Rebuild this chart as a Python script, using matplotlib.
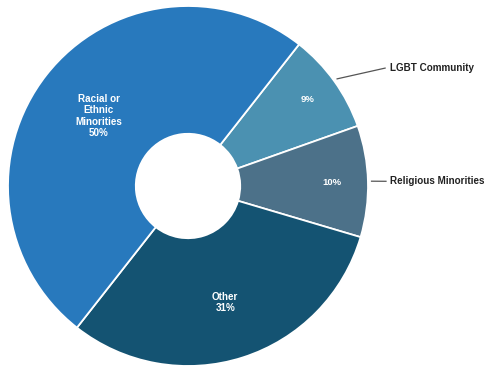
import numpy as np
import matplotlib.pyplot as plt

# data
labels = ['LGBT Community', 'Religious Minorities', 'Other', 'Racial or\nEthnic\nMinorities']
values = [9, 10, 31, 50]
colors = ['#4b91b1', '#4c7189', '#145372', '#2879bd']
outside = [True, True, False, False]
label_r = [0.82, 0.80, 0.68, 0.63]

fig = plt.figure(figsize=(4.88, 3.68), dpi=100)
ax = fig.add_axes([0, 0, 1, 1])

wedges, _ = ax.pie(values, colors=colors, startangle=51.9, counterclock=False,
                   radius=1.0, wedgeprops=dict(width=0.71, edgecolor='white', linewidth=1.3))

for w, lab, v, out, r in zip(wedges, labels, values, outside, label_r):
    mid = np.deg2rad((w.theta1 + w.theta2) / 2)
    cx, cy = np.cos(mid), np.sin(mid)
    if out:
        ax.text(r * cx, r * cy, f'{v}%', color='white', fontsize=6.8, fontweight='bold',
                ha='center', va='center', family='Liberation Sans')
        if lab.startswith('LGBT'):
            end = (1.095, 0.655)
        else:
            end = (1.10, cy * 1.0)
        ax.plot([1.02 * cx, end[0]], [1.02 * cy, end[1]], color='#555555', lw=0.9)
        ax.text(end[0] + 0.025, end[1], lab, color='#222222', fontsize=7.1, fontweight='bold',
                ha='left', va='center', family='Liberation Sans')
    else:
        ax.text(r * cx, r * cy, f'{lab}\n{v}%', color='white', fontsize=7.1, fontweight='bold',
                ha='center', va='center', linespacing=1.2, family='Liberation Sans')

ax.set_aspect('auto')
ax.set_xlim(-188 / 180, 300 / 180)
ax.set_ylim(-182 / 180, 186 / 180)
ax.axis('off')

plt.savefig('out.png', dpi=100)
